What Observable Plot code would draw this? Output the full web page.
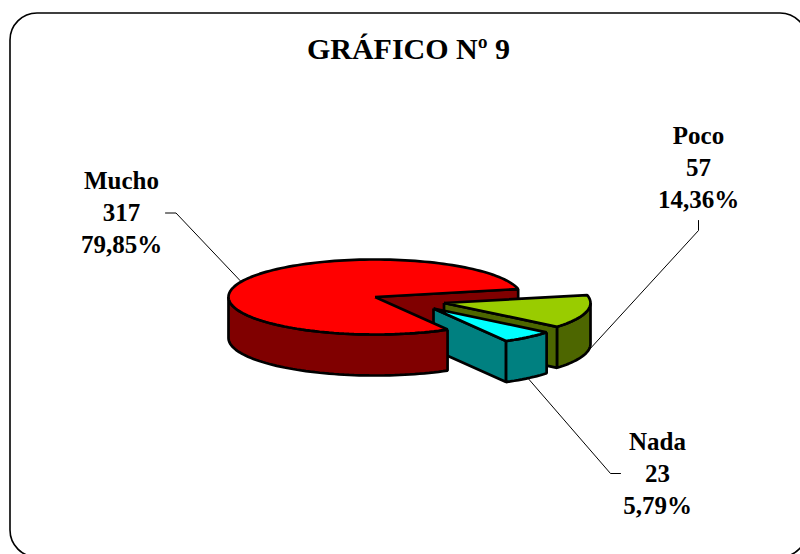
<!DOCTYPE html>
<html><head><meta charset="utf-8">
<script src="https://cdn.jsdelivr.net/npm/d3@7"></script>
<script src="https://cdn.jsdelivr.net/npm/@observablehq/plot@0.6"></script>
<style>html,body{margin:0;padding:0;background:#fff;overflow:hidden}svg{display:block;overflow:hidden}</style>
</head><body><div id="chart"></div>
<script>
const categories = ["Mucho", "Poco", "Nada"];
const counts = [317, 57, 23];
const percents = ["79,85%", "14,36%", "5,79%"];
const topColors = ["#ff0000", "#99cc00", "#00ffff"];
const sideColors = ["#800000", "#4d6600", "#008080"];

const title = "GRÁFICO Nº 9";
const FONT = "'Liberation Serif','Times New Roman',serif";
const cx = 374.5, cy = 296.5, rx = 146.5, ry = 37.5, depth = 41;
const offsets = [[0, 0], [69, 6], [58.5, 11.5]];
const labelAt = [[121, 210.5], [698, 165.5], [657, 471.5]];
const elbows = [[[165, 212.5], [175.5, 212.5]], [[698, 220], [698, 230]], [[620, 473], [610, 473]]];

const total = d3.sum(counts);
const toRad = Math.PI / 180;
let acc = 60.3;
const slices = counts.map((v, i) => {
  const a0 = acc, a1 = acc + (v / total) * 360;
  acc = a1;
  return {i, a0, a1, ox: cx + offsets[i][0], oy: cy + offsets[i][1]};
});
const rim = (s, a, dz = 0) => ({
  x: s.ox + rx * Math.cos(a * toRad),
  y: s.oy + ry * Math.sin(a * toRad) + dz
});
const arc = (s, a0, a1, dz = 0) => {
  const n = Math.max(2, Math.ceil(Math.abs(a1 - a0) / 2));
  return d3.range(n + 1).map(k => rim(s, a0 + (a1 - a0) * k / n, dz));
};
const close = pts => [...pts, pts[0]];
const topFace = s => close([{x: s.ox, y: s.oy}, ...arc(s, s.a0, s.a1)]);
const cutWall = (s, a) => close([
  {x: s.ox, y: s.oy}, rim(s, a), rim(s, a, depth), {x: s.ox, y: s.oy + depth}
]);
const rimWall = (s, a0, a1) => close([...arc(s, a0, a1), ...arc(s, a1, a0, depth)]);

const poly = (pts, fill) => Plot.line(pts, {
  x: "x", y: "y", fill, stroke: "#000", strokeWidth: 2.7,
  strokeLinejoin: "miter", strokeLinecap: "butt"
});

const [mucho, poco, nada] = slices;
const mid = s => (s.a0 + s.a1) / 2;
const leaders = slices.map((s, i) => [...elbows[i], rim(s, mid(s) % 360, i === 0 ? 0 : depth)].map(p => Array.isArray(p) ? {x: p[0], y: p[1]} : p));

const plot = Plot.plot({
  width: 800, height: 554, margin: 0,
  x: {domain: [0, 800], range: [0, 800], axis: null},
  y: {domain: [0, 554], range: [0, 554], axis: null},
  style: {background: "#fff"},
  marks: [
    Plot.rect([{x1: 10, x2: 807, y1: 13, y2: 557}], {
      x1: "x1", x2: "x2", y1: "y1", y2: "y2", rx: 27,
      fill: "none", stroke: "#000", strokeWidth: 1.6
    }),
    Plot.text([title], {
      text: d => d, frameAnchor: "top", dy: 49, fontFamily: FONT, fontWeight: "bold",
      fontSize: 30, fill: "#000", dx: 8, lineAnchor: "middle"
    }),
    ...leaders.map(l => Plot.line(l, {x: "x", y: "y", stroke: "#000", strokeWidth: 1})),
    poly(cutWall(mucho, mucho.a1 - 360), sideColors[0]),
    poly(cutWall(poco, poco.a1 - 360), sideColors[1]),
    poly(rimWall(poco, 360, poco.a1), sideColors[1]),
    poly(topFace(poco), topColors[1]),
    poly(cutWall(nada, nada.a1 - 360), sideColors[2]),
    poly(rimWall(nada, nada.a0, nada.a1), sideColors[2]),
    poly(topFace(nada), topColors[2]),
    poly(rimWall(mucho, mucho.a0, 180), sideColors[0]),
    poly(topFace(mucho), topColors[0]),
    Plot.text(categories.map((c, i) => ({
      t: `${c}\n${counts[i]}\n${percents[i]}`, x: labelAt[i][0], y: labelAt[i][1]
    })), {
      x: "x", y: "y", text: "t", textAnchor: "middle", lineAnchor: "middle",
      lineHeight: 1.28, fontFamily: FONT, fontWeight: "bold", fontSize: 25, fill: "#000"
    })
  ]
});
document.getElementById("chart").append(plot);
</script></body></html>
